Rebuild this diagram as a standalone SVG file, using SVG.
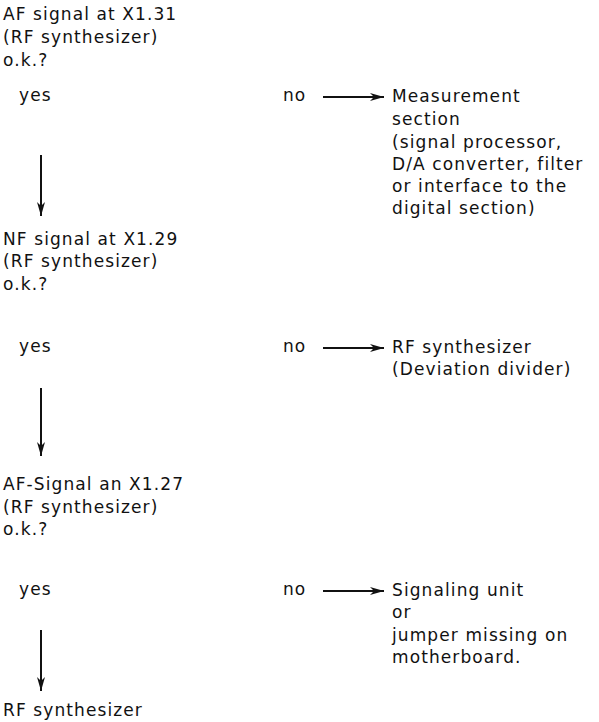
<svg xmlns="http://www.w3.org/2000/svg" width="599" height="722" viewBox="0 0 599 722">
<defs>
<style>
text{font-family:"DejaVu Sans","Open Sans","Liberation Sans",sans-serif;font-size:17px;letter-spacing:1.1px;fill:#111}
.c{stroke:#111;stroke-width:2;fill:none}
</style>
<marker id="ah" viewBox="0 0 14 8" refX="14" refY="4" markerWidth="14" markerHeight="8" markerUnits="userSpaceOnUse" orient="auto">
<path d="M0,0 L14,4 L0,8 L4,4 Z" fill="#111"/>
</marker>
</defs>
<rect width="599" height="722" fill="#fff"/>
<g id="q1"><text x="3" y="20">AF signal at X1.31</text><text x="3" y="43">(RF synthesizer)</text><text x="3" y="66">o.k.?</text></g>
<g id="yes1"><text x="19" y="101">yes</text></g>
<g id="no1"><text x="283" y="101">no</text></g>
<g id="r1"><text x="392" y="102">Measurement</text><text x="392" y="125">section</text><text x="392" y="148">(signal processor,</text><text x="392" y="170">D/A converter, filter</text><text x="392" y="192">or interface to the</text><text x="392" y="214">digital section)</text></g>
<g id="q2"><text x="3" y="245">NF signal at X1.29</text><text x="3" y="267">(RF synthesizer)</text><text x="3" y="290">o.k.?</text></g>
<g id="yes2"><text x="19" y="352">yes</text></g>
<g id="no2"><text x="283" y="352">no</text></g>
<g id="r2"><text x="392" y="353">RF synthesizer</text><text x="392" y="375">(Deviation divider)</text></g>
<g id="q3"><text x="3" y="490">AF-Signal an X1.27</text><text x="3" y="513">(RF synthesizer)</text><text x="3" y="535">o.k.?</text></g>
<g id="yes3"><text x="19" y="595">yes</text></g>
<g id="no3"><text x="283" y="595">no</text></g>
<g id="r3"><text x="392" y="596">Signaling unit</text><text x="392" y="618">or</text><text x="392" y="641">jumper missing on</text><text x="392" y="663">motherboard.</text></g>
<g id="end"><text x="3" y="716">RF synthesizer</text></g>
<g id="connectors">
<line class="c" x1="323" y1="97" x2="384" y2="97" marker-end="url(#ah)"/>
<line class="c" x1="323" y1="348" x2="384" y2="348" marker-end="url(#ah)"/>
<line class="c" x1="323" y1="591" x2="384" y2="591" marker-end="url(#ah)"/>
<line class="c" x1="41" y1="155" x2="41" y2="216" marker-end="url(#ah)"/>
<line class="c" x1="41" y1="388" x2="41" y2="456" marker-end="url(#ah)"/>
<line class="c" x1="41" y1="630" x2="41" y2="691" marker-end="url(#ah)"/>
</g>
</svg>
